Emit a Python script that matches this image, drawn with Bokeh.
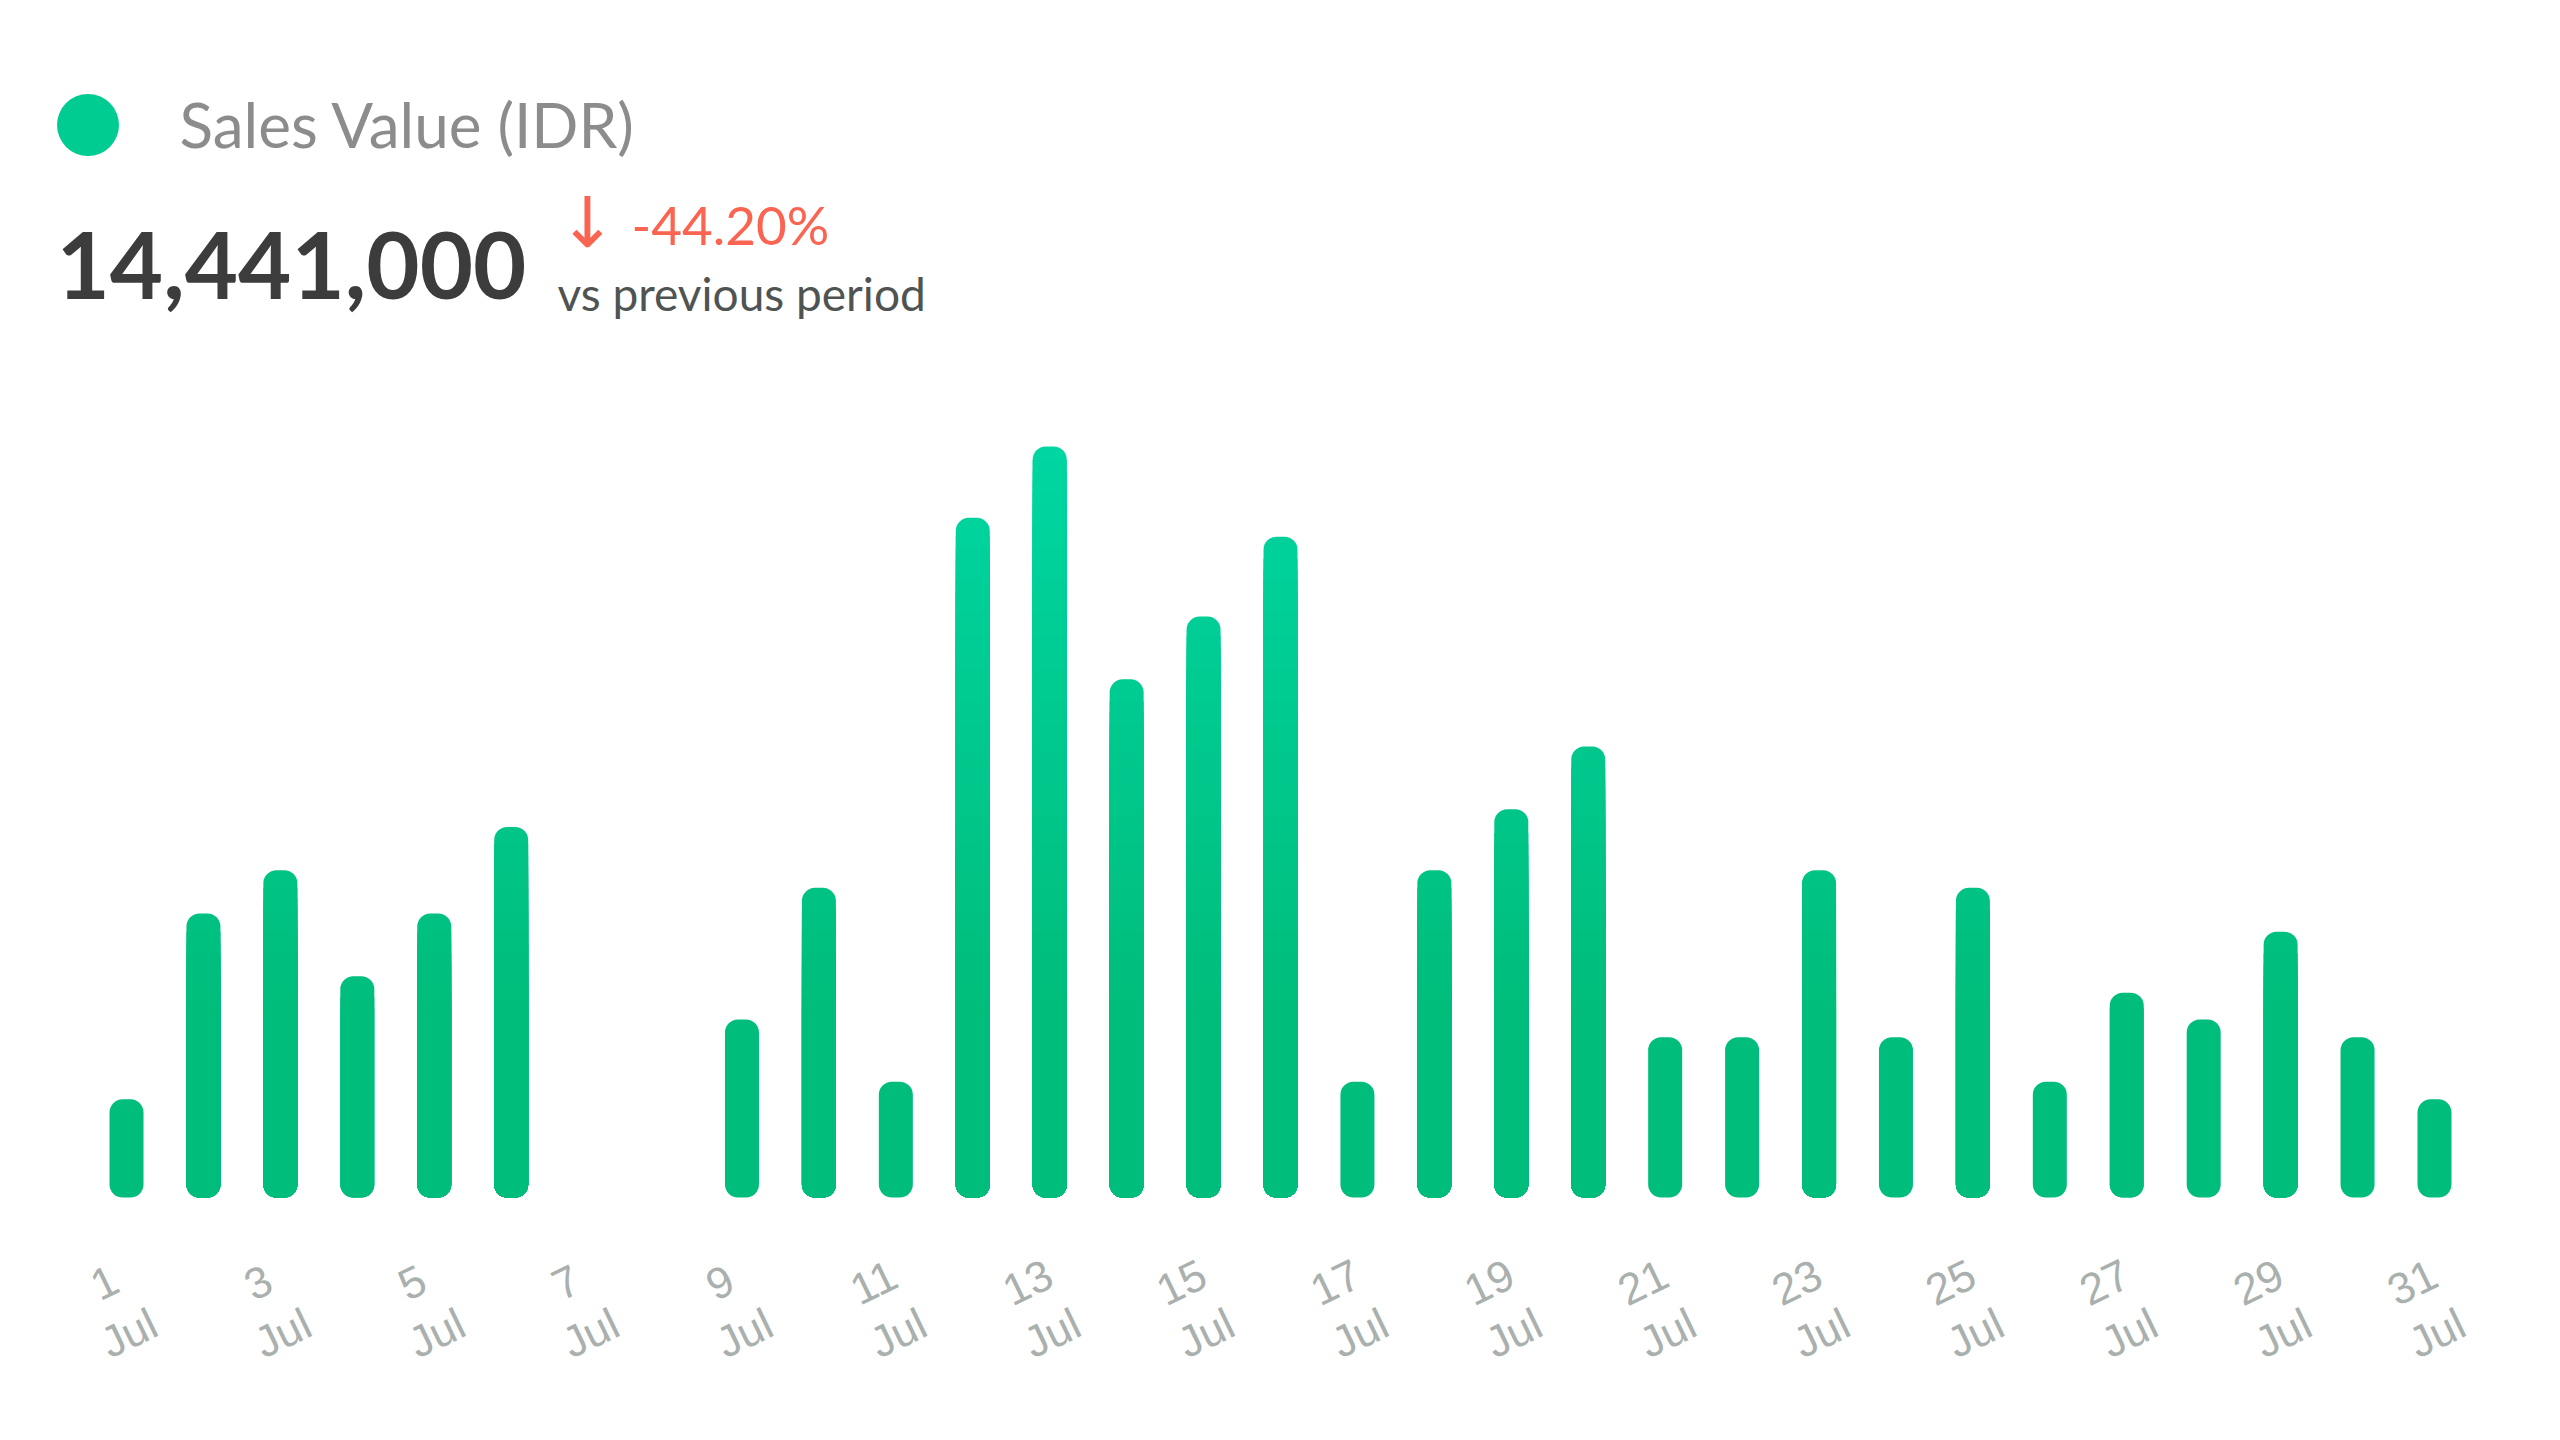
from bokeh.plotting import figure
from bokeh.models import Range1d, ColumnDataSource, Label, Legend, LegendItem, Grid
from bokeh.core.properties import value
from bokeh.embed import file_html
from bokeh.resources import INLINE

# ---------------- data ----------------
days = list(range(1, 32))
sales = [161000, 466000, 537000, 363000, 466000, 608000, 0, 0,
         292000, 508000, 190000, 1115000, 1232000, 850000, 953000, 1084000,
         190000, 537000, 637000, 740000, 263000, 263000, 537000, 263000,
         508000, 190000, 336000, 292000, 436000, 263000, 161000]
tick_days = list(range(1, 32, 2))
tick_labels = [f"{d}\nJul" for d in tick_days]
series_name = "Sales Value (IDR)"
total_text = "14,441,000"
change_text = "-44.20%"
compare_text = "vs previous period"

# ---------------- style ----------------
W, H = 2544, 1424
X_START, X_END = -0.638, 32.43
Y_START, Y_END = -372400, 1963700
BAR_W = 0.442
R_PX = 13
TOP_COL = (0x00, 0xD6, 0xA2)
BASE_COL = (0x00, 0xBD, 0x7B)
GRAD_LO, GRAD_HI = 310000, 1232000
STEP = 18000
RED = "#FA6450"

data_per_px = (Y_END - Y_START) / H
r_data = R_PX * data_per_px


def grad(y):
    t = (y - GRAD_LO) / (GRAD_HI - GRAD_LO)
    t = max(0.0, min(1.0, t))
    c = [round(b + (a - b) * t) for a, b in zip(TOP_COL, BASE_COL)]
    return "#%02x%02x%02x" % tuple(c)


p = figure(width=W, height=H, x_range=Range1d(X_START, X_END), y_range=Range1d(Y_START, Y_END),
           output_backend="svg", toolbar_location=None,
           x_axis_location=None, y_axis_location=None, min_border=0,
           outline_line_color=None, background_fill_color="white", border_fill_color="white")
for g in list(p.center):
    if isinstance(g, Grid):
        g.visible = False

# bars: full bar in its top colour, then stacked gradient overlays from the top down
fx, ftop, fcol = [], [], []
ox, otop, ocol = [], [], []
for d, v in zip(days, sales):
    if v <= 0:
        continue
    levels = []
    lv = GRAD_LO
    while lv <= v - r_data:
        levels.append(lv)
        lv += STEP
    top_region = ((levels[-1] if levels else 0) + v) / 2
    fx.append(d); ftop.append(v); fcol.append(grad(max(top_region, v - r_data)))
    for lv in levels:
        ox.append(d); otop.append(lv); ocol.append(grad(lv - STEP / 2))

p.vbar(x="x", top="top", bottom=0, width=BAR_W, fill_color="c", line_color=None,
       border_radius=R_PX, source=ColumnDataSource(dict(x=fx, top=ftop, c=fcol)))

order = sorted(range(len(ox)), key=lambda i: -otop[i])
p.vbar(x="x", top="top", bottom=0, width=BAR_W, fill_color="c", line_color=None,
       border_radius=(0, 0, R_PX, R_PX),
       source=ColumnDataSource(dict(x=[ox[i] for i in order], top=[otop[i] for i in order],
                                    c=[ocol[i] for i in order])))

# x tick labels
p.text(x=tick_days, y=[0] * len(tick_days), text=tick_labels, angle=0.45,
       x_offset=-10, y_offset=110, text_align="center", text_baseline="middle",
       text_font=value("Liberation Sans"), text_font_size="44px", text_color="#A9B0AE",
       text_line_height=1.15)

# legend dot + series name
dot = p.scatter(x=[float("nan")], y=[float("nan")], marker="circle", size=62,
                fill_color="#00CB90", line_color=None)
legend = Legend(items=[LegendItem(label=series_name, renderers=[dot])],
                location=(9.5, H - 201.5), glyph_width=155, glyph_height=155,
                label_standoff=15, padding=0, margin=0, spacing=0,
                border_line_color=None, background_fill_alpha=0,
                label_text_font="Lato", label_text_font_size="62px", label_text_color="#8C8C8C")
p.add_layout(legend)

p.add_layout(Label(x=56, y=H - 265, x_units="screen", y_units="screen", text=total_text,
                   text_font="Lato", text_font_style="bold", text_font_size="92px",
                   text_color="#3C3C3C", text_baseline="alphabetic"))
p.add_layout(Label(x=587, y=H - 222, x_units="screen", y_units="screen", text="\u2193",
                   text_font="DejaVu Sans", text_font_size="70px", text_color=RED,
                   text_align="center", text_baseline="middle"))
p.add_layout(Label(x=631, y=H - 224, x_units="screen", y_units="screen", text=change_text,
                   text_font="Lato", text_font_size="53px", text_color=RED,
                   text_baseline="alphabetic"))
p.add_layout(Label(x=557, y=H - 293, x_units="screen", y_units="screen", text=compare_text,
                   text_font="Lato", text_font_size="46px", text_color="#4F5452",
                   text_baseline="alphabetic"))

open("out.html", "w").write(file_html(p, INLINE))
